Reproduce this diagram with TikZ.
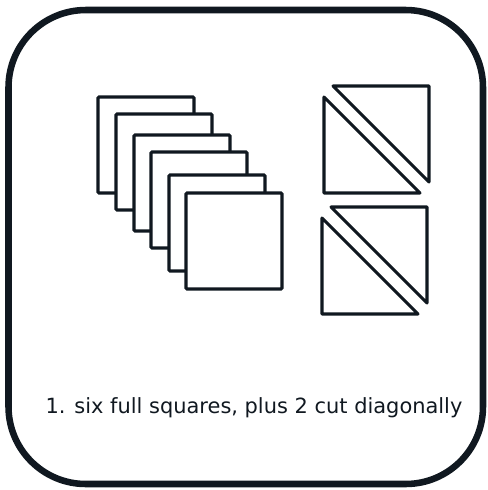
\documentclass[tikz,border=0pt]{standalone}
\usepackage{fontspec}
\setmainfont{DejaVu Sans}
\definecolor{ink}{RGB}{16,24,32}

\begin{document}
\begin{tikzpicture}[
  x=0.75pt, y=-0.75pt,
  frame/.style={draw=ink, line width=4.9pt, rounded corners=58pt},
  sheet/.style={draw=ink, fill=white, line width=2.3pt, rounded corners=0.8pt},
  half/.style={draw=ink, line width=2.3pt, line join=round},
  caption/.style={font=\fontsize{15.7}{19}\selectfont, text=ink, inner sep=0pt},
]
\useasboundingbox (0,0) rectangle (487,490);
\draw[frame] (8.5,10) rectangle (483,484);

% stack of full squares, back to front
\foreach \x/\y in {98/97, 116/114, 134/135, 151/152, 169/175, 186/193}
  \draw[sheet] (\x,\y) rectangle ++(96,96);

% two squares cut on the diagonal
\foreach \x/\y in {333/86, 331/207} {
  \draw[half] (\x,\y) -- ++(96,0) -- ++(0,96) -- cycle;
  \draw[half] (\x-9,\y+11) -- ++(0,96) -- ++(96,0) -- cycle;
}

\node[caption, anchor=base] (label) at (254,413)
  {1. six full squares, plus 2 cut diagonally};
\end{tikzpicture}
\end{document}
